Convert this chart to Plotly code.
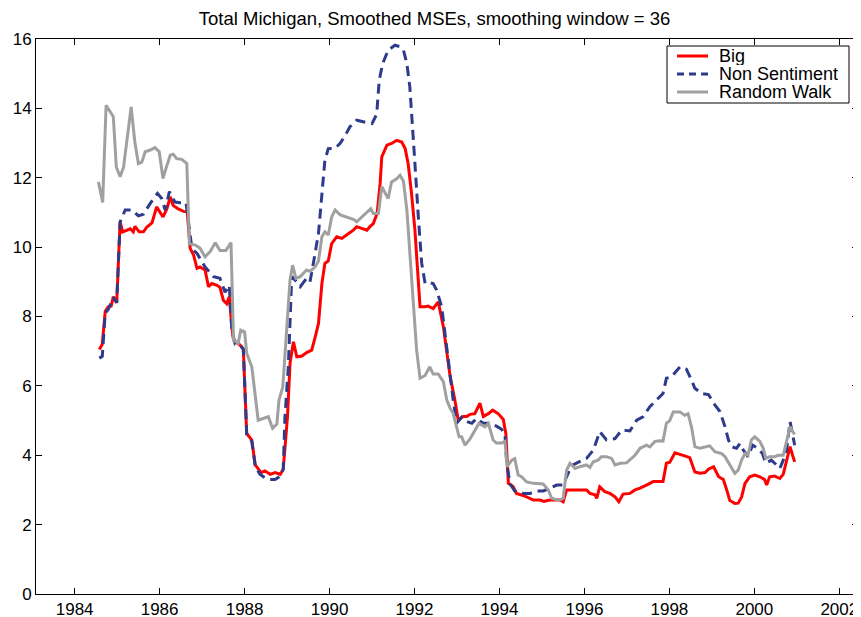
import plotly.graph_objects as go

# ---- data (decimal years, smoothed MSE) ----
big_x = [1984.58,1984.65,1984.72,1984.79,1984.86,1984.91,1984.99,1985.07,1985.13,1985.23,1985.31,1985.38,1985.42,1985.52,1985.62,1985.70,1985.82,1985.93,1986.01,1986.08,1986.17,1986.25,1986.32,1986.44,1986.56,1986.65,1986.72,1986.80,1986.88,1986.95,1987.07,1987.15,1987.23,1987.35,1987.42,1987.50,1987.58,1987.64,1987.70,1987.74,1987.89,1987.97,1988.05,1988.17,1988.25,1988.32,1988.39,1988.48,1988.60,1988.72,1988.84,1988.91,1989.01,1989.07,1989.15,1989.23,1989.35,1989.46,1989.58,1989.66,1989.74,1989.82,1989.89,1989.97,1990.05,1990.17,1990.29,1990.40,1990.56,1990.64,1990.76,1990.88,1990.95,1991.03,1991.12,1991.19,1991.23,1991.35,1991.46,1991.58,1991.70,1991.78,1991.85,1991.93,1992.01,1992.07,1992.13,1992.25,1992.32,1992.44,1992.56,1992.68,1992.76,1992.84,1992.95,1993.03,1993.15,1993.23,1993.31,1993.42,1993.54,1993.62,1993.74,1993.84,1993.97,1994.09,1994.15,1994.21,1994.32,1994.40,1994.56,1994.80,1994.95,1995.05,1995.15,1995.27,1995.42,1995.50,1995.58,1995.74,1995.89,1996.05,1996.13,1996.25,1996.29,1996.36,1996.48,1996.60,1996.72,1996.81,1996.91,1997.07,1997.19,1997.31,1997.46,1997.62,1997.74,1997.85,1997.93,1998.01,1998.13,1998.25,1998.36,1998.48,1998.60,1998.72,1998.84,1998.92,1999.04,1999.16,1999.27,1999.35,1999.42,1999.54,1999.62,1999.70,1999.78,1999.89,2000.01,2000.13,2000.24,2000.29,2000.36,2000.48,2000.60,2000.68,2000.76,2000.84,2000.90,2000.95]
big_y = [7.05,7.2,8.15,8.28,8.3,8.57,8.4,10.73,10.44,10.49,10.53,10.44,10.6,10.44,10.44,10.58,10.7,11.16,11.0,10.87,11.1,11.45,11.2,11.1,11.03,11.02,9.96,9.77,9.39,9.43,9.34,8.86,8.95,8.9,8.84,8.47,8.37,8.57,7.7,7.32,7.18,7.06,4.63,4.44,3.72,3.6,3.5,3.55,3.45,3.5,3.45,3.6,5.11,6.65,7.27,6.84,6.86,6.96,7.03,7.4,7.8,8.95,9.53,9.6,10.1,10.3,10.25,10.35,10.49,10.59,10.54,10.49,10.59,10.68,10.97,11.83,12.6,12.94,12.99,13.08,13.03,12.84,12.41,11.55,10.49,9.34,8.28,8.28,8.3,8.23,8.42,7.7,6.94,6.26,5.59,5.01,5.12,5.12,5.18,5.2,5.5,5.12,5.2,5.3,5.2,5.03,4.63,3.19,3.1,2.9,2.84,2.71,2.71,2.67,2.7,2.72,2.71,2.66,3.0,3.0,3.0,3.0,2.9,2.86,2.76,3.09,2.95,2.9,2.8,2.66,2.88,2.9,3.0,3.05,3.14,3.24,3.24,3.24,3.77,3.8,4.07,4.03,3.98,3.93,3.52,3.48,3.5,3.6,3.67,3.38,3.3,3.0,2.7,2.61,2.62,2.8,3.19,3.38,3.43,3.38,3.3,3.14,3.38,3.4,3.33,3.45,3.86,4.25,4.0,3.81]

nonsent_x = [1984.58,1984.65,1984.72,1984.79,1984.86,1984.91,1984.99,1985.07,1985.19,1985.35,1985.50,1985.62,1985.78,1985.95,1986.05,1986.13,1986.23,1986.36,1986.48,1986.62,1986.76,1986.88,1987.07,1987.27,1987.42,1987.54,1987.64,1987.70,1987.78,1987.89,1987.97,1988.05,1988.17,1988.25,1988.36,1988.48,1988.60,1988.72,1988.84,1988.91,1988.95,1989.03,1989.11,1989.19,1989.31,1989.46,1989.54,1989.62,1989.66,1989.74,1989.82,1989.89,1989.97,1990.13,1990.25,1990.36,1990.48,1990.64,1990.84,1991.00,1991.11,1991.17,1991.25,1991.38,1991.54,1991.66,1991.74,1991.82,1991.89,1991.93,1992.01,1992.09,1992.17,1992.25,1992.36,1992.44,1992.52,1992.64,1992.76,1992.84,1992.91,1992.99,1993.11,1993.23,1993.35,1993.46,1993.62,1993.78,1993.93,1994.05,1994.13,1994.17,1994.25,1994.36,1994.56,1994.72,1994.88,1995.03,1995.19,1995.35,1995.42,1995.50,1995.58,1995.70,1995.86,1996.05,1996.21,1996.32,1996.36,1996.52,1996.72,1996.88,1997.07,1997.23,1997.38,1997.54,1997.66,1997.85,1997.93,1998.05,1998.25,1998.40,1998.52,1998.60,1998.76,1998.92,1999.07,1999.19,1999.31,1999.39,1999.46,1999.58,1999.66,1999.74,1999.85,1999.96,2000.08,2000.19,2000.27,2000.40,2000.48,2000.60,2000.68,2000.76,2000.84,2000.90,2000.95]
nonsent_y = [6.8,6.85,8.1,8.2,8.4,8.55,8.4,10.73,11.07,11.07,10.9,10.95,11.26,11.55,11.4,11.07,11.6,11.3,11.28,11.28,9.96,9.82,9.43,9.15,9.1,8.7,8.9,7.6,7.2,7.18,7.06,4.6,4.4,3.7,3.45,3.35,3.3,3.3,3.4,3.6,5.1,6.55,9.15,9.05,8.86,9.1,9.0,9.62,9.82,10.4,11.6,12.5,12.84,12.85,12.99,13.2,13.47,13.66,13.6,13.56,13.83,14.81,15.29,15.68,15.82,15.78,15.68,15.29,14.62,13.76,12.41,10.87,9.53,8.95,8.97,8.95,8.76,8.28,7.0,6.3,5.6,4.92,5.1,4.97,4.92,5.06,4.92,4.92,4.84,4.75,4.6,3.77,3.17,2.97,2.9,2.9,2.97,2.97,3.05,3.14,3.14,3.14,3.38,3.7,3.8,3.91,4.15,4.53,4.68,4.44,4.48,4.73,4.7,5.01,5.11,5.4,5.54,5.78,6.22,6.26,6.55,6.48,6.17,5.93,5.78,5.75,5.45,5.26,4.82,4.44,4.25,4.2,4.34,4.15,3.96,4.29,4.2,4.05,3.77,3.86,3.77,3.62,3.86,4.15,4.97,4.6,4.29]

rw_x = [1984.56,1984.66,1984.74,1984.91,1984.98,1985.07,1985.15,1985.33,1985.42,1985.50,1985.58,1985.66,1985.78,1985.89,1985.99,1986.08,1986.15,1986.25,1986.32,1986.40,1986.52,1986.64,1986.70,1986.84,1986.95,1987.07,1987.19,1987.31,1987.42,1987.56,1987.68,1987.74,1987.85,1987.91,1988.00,1988.05,1988.17,1988.32,1988.56,1988.66,1988.76,1988.81,1988.90,1989.01,1989.07,1989.13,1989.21,1989.31,1989.46,1989.54,1989.66,1989.74,1989.82,1989.89,1989.97,1990.05,1990.13,1990.25,1990.40,1990.56,1990.64,1990.76,1990.88,1990.97,1991.03,1991.15,1991.23,1991.31,1991.38,1991.46,1991.58,1991.66,1991.74,1991.82,1991.89,1991.97,1992.05,1992.13,1992.25,1992.36,1992.44,1992.56,1992.68,1992.76,1992.84,1992.91,1992.99,1993.05,1993.11,1993.19,1993.31,1993.42,1993.52,1993.66,1993.74,1993.85,1993.93,1994.05,1994.13,1994.18,1994.29,1994.36,1994.44,1994.52,1994.64,1994.80,1995.03,1995.15,1995.23,1995.35,1995.42,1995.50,1995.58,1995.66,1995.78,1995.89,1996.05,1996.13,1996.21,1996.32,1996.40,1996.52,1996.64,1996.72,1996.84,1996.99,1997.07,1997.19,1997.31,1997.46,1997.54,1997.66,1997.78,1997.85,1997.93,1998.01,1998.09,1998.25,1998.36,1998.44,1998.52,1998.60,1998.72,1998.84,1998.95,1999.07,1999.23,1999.31,1999.42,1999.54,1999.62,1999.70,1999.78,1999.85,1999.93,2000.01,2000.13,2000.21,2000.27,2000.36,2000.48,2000.56,2000.68,2000.76,2000.84,2000.91,2000.95]
rw_y = [11.88,11.29,14.09,13.76,12.31,12.03,12.3,14.04,13.0,12.41,12.45,12.75,12.8,12.87,12.75,11.98,12.27,12.65,12.68,12.55,12.53,12.41,10.1,10.06,9.97,9.72,9.87,10.13,9.9,9.9,10.13,7.32,7.23,7.61,7.56,6.94,6.55,5.01,5.11,4.78,4.9,5.59,5.97,8.18,9.05,9.48,9.1,9.15,9.34,9.3,9.43,9.6,10.3,10.44,10.35,10.87,11.07,10.93,10.87,10.8,10.73,10.87,11.02,11.11,10.97,10.97,11.74,11.55,11.4,11.88,11.97,12.07,11.9,11.07,9.91,8.57,7.03,6.22,6.3,6.55,6.34,6.34,6.12,5.59,5.35,5.21,4.84,4.53,4.53,4.29,4.48,4.73,4.92,4.82,4.92,4.44,4.35,4.35,4.4,3.67,3.86,3.9,3.43,3.38,3.23,3.19,3.17,3.0,2.76,2.72,2.71,2.76,3.57,3.77,3.62,3.67,3.72,3.65,3.81,3.86,3.96,3.96,3.91,3.72,3.77,3.78,3.86,4.0,4.2,4.29,4.24,4.4,4.42,4.41,4.92,5.0,5.25,5.25,5.15,5.2,4.82,4.25,4.2,4.24,4.27,4.1,4.05,3.96,3.72,3.48,3.57,3.86,4.05,4.0,4.44,4.53,4.4,4.2,3.91,3.96,3.96,4.0,4.0,4.44,4.82,4.67,4.6]

year_ticks = [1984, 1986, 1988, 1990, 1992, 1994, 1996, 1998, 2000, 2002]
value_ticks = [0, 2, 4, 6, 8, 10, 12, 14, 16]

series_names = ["Big", "Non Sentiment", "Random Walk"]
series_colors = ["#ff0000", "#2e3b8c", "#a0a0a0"]
series_dash = ["solid", "10px,6px", "solid"]

FONT = "Liberation Sans, Arial, Helvetica, sans-serif"

# the page body has an 8px margin: size the figure so that the plot area
# lands at page pixels x 36..858, y 39..594
OFF = 8
W, H = 861 - OFF, 617 - OFF
ML, MR, MT, MB = 36 - OFF, 3, 39 - OFF, 23
PW = W - ML - MR   # 822
PH = H - MT - MB   # 555

def px(page_x):
    return (page_x - 36) / PW

def py(page_y):
    return (594 - page_y) / PH

fig = go.Figure()
for xs, ys, nm, col, ds in zip([big_x, nonsent_x, rw_x], [big_y, nonsent_y, rw_y],
                               series_names, series_colors, series_dash):
    fig.add_trace(go.Scatter(x=xs, y=ys, mode="lines", name=nm, showlegend=False,
                             line=dict(color=col, width=3, dash=ds)))

axis_common = dict(showline=True, linecolor="black", linewidth=1, mirror="ticks",
                   ticks="inside", ticklen=6, tickcolor="black", showgrid=False,
                   zeroline=False, automargin=False, ticklabeloverflow="allow",
                   tickfont=dict(family=FONT, size=17, color="black"))

# manual legend (MATLAB style compact box)
shapes = [dict(type="rect", xref="paper", yref="paper",
               x0=px(667), x1=px(849), y0=py(103), y1=py(46),
               line=dict(color="black", width=1), fillcolor="white", layer="above")]
annotations = []
for i, (nm, col, ds) in enumerate(zip(series_names, series_colors, series_dash)):
    yy = 56 + 18 * i
    shapes.append(dict(type="line", xref="paper", yref="paper",
                       x0=px(677), x1=px(708), y0=py(yy), y1=py(yy),
                       line=dict(color=col, width=3, dash="7px,5px" if ds != "solid" else "solid"),
                       layer="above"))
    annotations.append(dict(xref="paper", yref="paper", x=px(717), y=py(yy),
                            xanchor="left", yanchor="middle", showarrow=False,
                            text=nm, height=18, valign="middle",
                            font=dict(family=FONT, size=18, color="black")))

fig.update_layout(
    width=W, height=H,
    margin=dict(l=ML, r=MR, t=MT, b=MB, autoexpand=False),
    paper_bgcolor="white", plot_bgcolor="white",
    font=dict(family=FONT, size=17, color="black"),
    title=dict(text="Total Michigan, Smoothed MSEs, smoothing window = 36",
               x=0.5, xanchor="center", y=1 - (19 - OFF) / H, yanchor="middle",
               automargin=False,
               font=dict(family=FONT, size=18.5, color="black")),
    xaxis=dict(range=[1983.09, 2002.44], tickvals=year_ticks,
               ticktext=[str(t) for t in year_ticks], **axis_common),
    yaxis=dict(range=[0, 16], tickvals=value_ticks, **axis_common),
    shapes=shapes,
    annotations=annotations,
    showlegend=False,
)

fig.write_html("out.html")
